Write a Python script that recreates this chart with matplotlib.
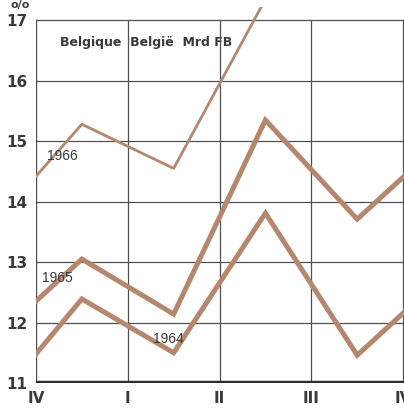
import matplotlib
matplotlib.use("Agg")
import matplotlib.pyplot as plt

# quarter positions: IV(1963)=0, I=1, II=2, III=3, IV=4 ; data sit mid-quarter
quarters = ["IV", "I", "II", "III", "IV"]
xq = [-0.5, 0.5, 1.5, 2.5, 3.5, 4.5]
v1966 = [13.56, 15.28, 14.55, 17.35]
v1965 = [11.66, 13.05, 12.14, 15.35, 13.71, 15.1]
v1964 = [10.57, 12.39, 11.50, 13.81, 11.46, 12.85]
yticks = [11, 12, 13, 14, 15, 16, 17]

line_col = "#b5876e"
grid_col = "#505050"
txt_col = "#3a3a3a"

fig = plt.figure(figsize=(4.04, 4.08), dpi=100)
ax = fig.add_axes([36/404, 25/408, 368/404, 376/408])
ax.set_xlim(0, 4.01)
ax.set_ylim(11, 17.22)

for y in yticks[1:]:
    ax.axhline(y, color=grid_col, lw=0.9, zorder=1)
for x in range(1, 5):
    ax.plot([x, x], [11, 17], color=grid_col, lw=0.9, zorder=1)
ax.plot([0, 0], [11, 17], color=grid_col, lw=1.0, zorder=1)
ax.axhline(11, color="#2e2e2e", lw=3.2, zorder=3)

ax.plot(xq[:len(v1966)], v1966, color=line_col, lw=2.0, zorder=2)
ax.plot(xq, v1965, color=line_col, lw=3.6, zorder=2, solid_joinstyle="miter")
ax.plot(xq, v1964, color=line_col, lw=3.6, zorder=2, solid_joinstyle="miter")

for s in ax.spines.values():
    s.set_visible(False)
ax.set_xticks(range(5))
ax.set_xticklabels(quarters)
ax.set_yticks(yticks)
ax.tick_params(length=0, colors=txt_col, labelsize=11, pad=6)
for lab in ax.get_xticklabels() + ax.get_yticklabels():
    lab.set_fontweight("bold")

ax.text(0.26, 16.64, "Belgique  België  Mrd FB", fontsize=9, fontweight="bold",
        color=txt_col, va="center", ha="left", zorder=4)
yr_font = dict(fontsize=10, color=txt_col, va="center", zorder=4,
               family="Liberation Sans")
ax.text(0.12, 14.75, "1966", **yr_font)
ax.text(0.06, 12.73, "1965", **yr_font)
ax.text(1.28, 11.72, "1964", **yr_font)
fig.text(20/404, 1.0, "o/o", fontsize=8, fontweight="bold", color=txt_col,
         ha="center", va="top")

fig.savefig("out.png", dpi=100)
